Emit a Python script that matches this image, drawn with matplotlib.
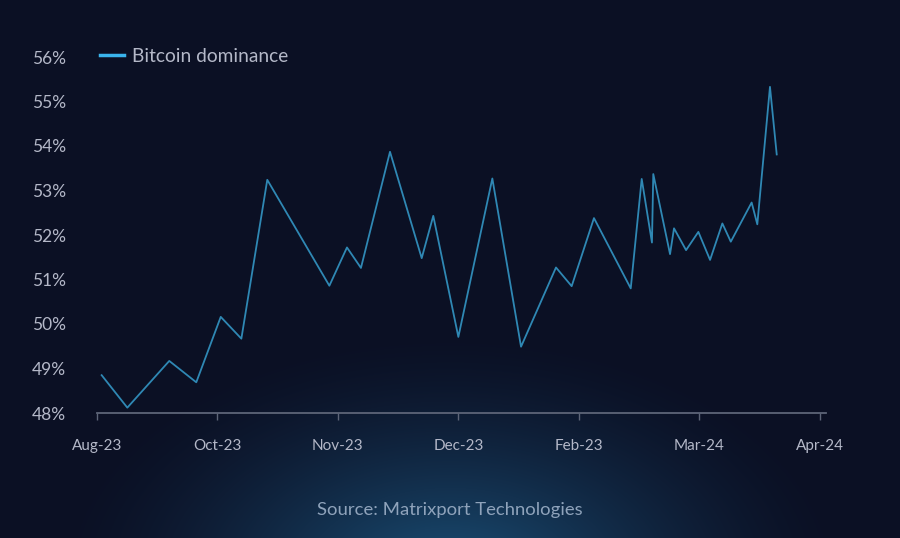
import numpy as np
import matplotlib
matplotlib.use("Agg")
import matplotlib.pyplot as plt

# ---- data (x in tick-interval units: 0 = Aug-23 tick, 1 = Oct-23 tick, ...) ----
x_pos = [0.041, 0.254, 0.602, 0.826, 1.029, 1.200, 1.415, 1.930, 2.076, 2.192,
         2.433, 2.696, 2.792, 3.000, 3.282, 3.520, 3.810, 3.940, 4.125, 4.430,
         4.521, 4.606, 4.617, 4.756, 4.789, 4.889, 4.991, 5.088, 5.190, 5.260,
         5.433, 5.480, 5.585, 5.641]
dominance = [48.85, 48.12, 49.17, 48.69, 50.16, 49.67, 53.24, 50.86, 51.72, 51.26,
             53.87, 51.48, 52.43, 49.71, 53.27, 49.49, 51.27, 50.85, 52.38, 50.80,
             53.26, 51.83, 53.37, 51.57, 52.15, 51.66, 52.07, 51.44, 52.26, 51.85,
             52.73, 52.24, 55.33, 53.81]
x_tick_labels = ["Aug-23", "Oct-23", "Nov-23", "Dec-23", "Feb-23", "Mar-24", "Apr-24"]
y_ticks = [48, 49, 50, 51, 52, 53, 54, 55, 56]
series_name = "Bitcoin dominance"
source_text = "Source: Matrixport Technologies"

plt.rcParams['font.family'] = ['Lato', 'DejaVu Sans']

W, H = 900, 538
fig = plt.figure(figsize=(W / 100, H / 100), dpi=100)

# ---- background with radial glow at the bottom centre ----
bg_ax = fig.add_axes([0, 0, 1, 1], zorder=-10)
yy, xx = np.mgrid[0:H, 0:W]
d = np.sqrt(((xx - 450) / 400.0) ** 2 + ((yy - 580) / 250.0) ** 2)
t = np.clip(1 - d, 0, 1) ** 1.5
base = np.array([11, 16, 36]) / 255.0
glow = np.array([27, 82, 122]) / 255.0
img = base[None, None, :] * (1 - t[..., None]) + glow[None, None, :] * t[..., None]
bg_ax.imshow(img, extent=[0, W, H, 0], aspect='auto')
bg_ax.set_axis_off()

# ---- main axes ----
left = 96.7 / W
right = 825.7 / W
bottom = 1 - 413 / H
top = 1 - 57 / H
ax = fig.add_axes([left, bottom, right - left, top - bottom])
ax.patch.set_alpha(0)

line, = ax.plot(x_pos, dominance, color='#2f88b4', lw=1.3, label=series_name)

ax.set_xlim(0, (825.7 - 96.7) / 120.55)
ax.set_ylim(48, 56)
ax.set_xticks(range(len(x_tick_labels)))
ax.set_xticklabels(x_tick_labels)
ax.set_yticks(y_ticks)
ax.set_yticklabels([f"{v}%" for v in y_ticks])

for s in ['top', 'right', 'left']:
    ax.spines[s].set_visible(False)
ax.spines['bottom'].set_color('#5d6578')
ax.spines['bottom'].set_linewidth(1.3)

ax.tick_params(axis='x', colors='#5d6578', length=5, width=1, pad=13.5,
               labelsize=11, labelcolor='#b4b8c8')
ax.tick_params(axis='y', length=0, pad=22, labelsize=12.5, labelcolor='#b4b8c8')

leg = ax.legend(loc='upper left', bbox_to_anchor=(100 / W, 1 - 48 / H),
                bbox_transform=fig.transFigure, frameon=False,
                handlelength=1.25, handletextpad=0.42, borderaxespad=0,
                borderpad=0, fontsize=13.8)
for lh in leg.get_lines():
    lh.set_color('#3ab4ec')
    lh.set_linewidth(2.5)
for txt in leg.get_texts():
    txt.set_color('#b4b8c8')

fig.text(0.5, 1 - 510 / H, source_text, ha='center', va='center',
         fontsize=13.3, color='#8fa3bb')

fig.savefig("out.png", dpi=100, facecolor='#0b1024')
